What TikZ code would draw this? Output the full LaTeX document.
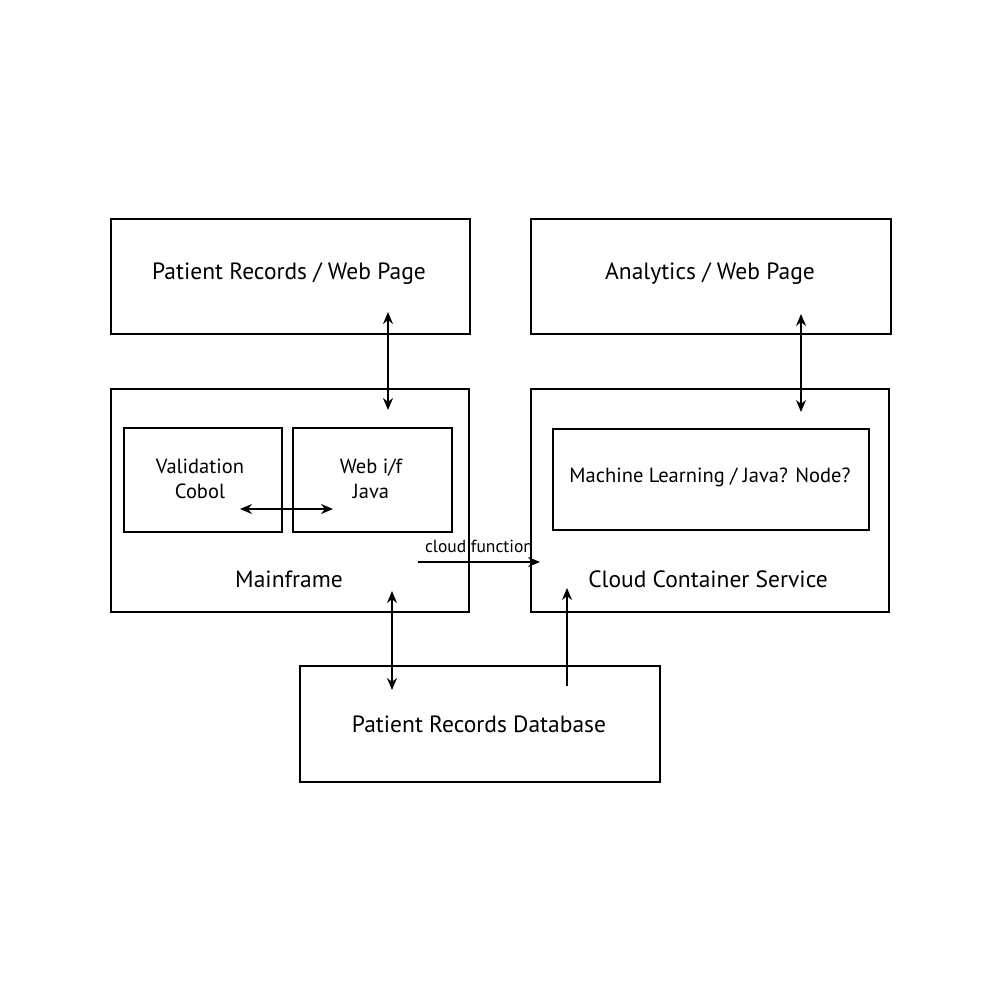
\documentclass[tikz,border=0pt]{standalone}
\usepackage{fontspec}
\setmainfont{PT Sans}
\usetikzlibrary{arrows.meta}
\tikzset{
  box/.style={draw, line width=2pt, inner sep=0pt, anchor=north west},
  lbl/.style={font=\fontsize{23.5}{28}\selectfont, align=center, inner sep=0pt},
  sml/.style={font=\fontsize{20.5}{25}\selectfont, align=center, inner sep=0pt},
  tiny/.style={font=\fontsize{17.5}{20}\selectfont, inner sep=0pt},
  conn/.style={line width=1.5pt, {Stealth[length=12pt,width=10pt]}-{Stealth[length=12pt,width=10pt]}},
  oneway/.style={line width=1.5pt, -{Stealth[length=12pt,width=10pt]}}
}
\begin{document}
\begin{tikzpicture}[x=1pt,y=-1pt]
\useasboundingbox (0,0) rectangle (1000,1000);
\fill[white] (0,0) rectangle (1000,1000);
% boxes
\node[box, minimum width=359pt, minimum height=115pt] (prweb) at (110,218) {};
\node[lbl] (prwebt) at (289,274) {Patient Records / Web Page};
\node[box, minimum width=360pt, minimum height=115pt] (anweb) at (530,218) {};
\node[lbl] (anwebt) at (710,274) {Analytics / Web Page};
\node[box, minimum width=358pt, minimum height=223pt] (mf) at (110,388) {};
\node[lbl] (mft) at (289,579) {Mainframe};
\node[box, minimum width=158pt, minimum height=104pt] (val) at (123,427) {};
\node[sml] (valt) at (200,479) {Validation\\Cobol};
\node[box, minimum width=159pt, minimum height=104pt] (web) at (292,427) {};
\node[sml] (webt) at (371,479) {Web i/f\\Java};
\node[box, minimum width=358pt, minimum height=223pt] (ccs) at (530,388) {};
\node[lbl] (ccst) at (708,579) {Cloud Container Service};
\node[box, minimum width=316pt, minimum height=101pt] (ml) at (552,428) {};
\node[sml] (mlt) at (710,477) {Machine Learning / Java? Node?};
\node[box, minimum width=360pt, minimum height=116pt] (db) at (299,665) {};
\node[lbl] (dbt) at (479,724) {Patient Records Database};
% arrow end points
\coordinate (a1) at (388,312); \coordinate (a2) at (388,410);
\coordinate (b1) at (801,314); \coordinate (b2) at (801,412);
\coordinate (c1) at (240,509); \coordinate (c2) at (333,509);
\coordinate (d1) at (418,562); \coordinate (d2) at (540,562);
\coordinate (e1) at (392,591); \coordinate (e2) at (392,690);
\coordinate (f1) at (567,686); \coordinate (f2) at (567,588);
\draw[conn] (a1) -- (a2);
\draw[conn] (b1) -- (b2);
\draw[conn] (c1) -- (c2);
\draw[oneway] (d1) -- (d2);
\node[tiny] (cf) at (479,546) {cloud function};
\draw[conn] (e1) -- (e2);
\draw[oneway] (f1) -- (f2);
\end{tikzpicture}
\end{document}
